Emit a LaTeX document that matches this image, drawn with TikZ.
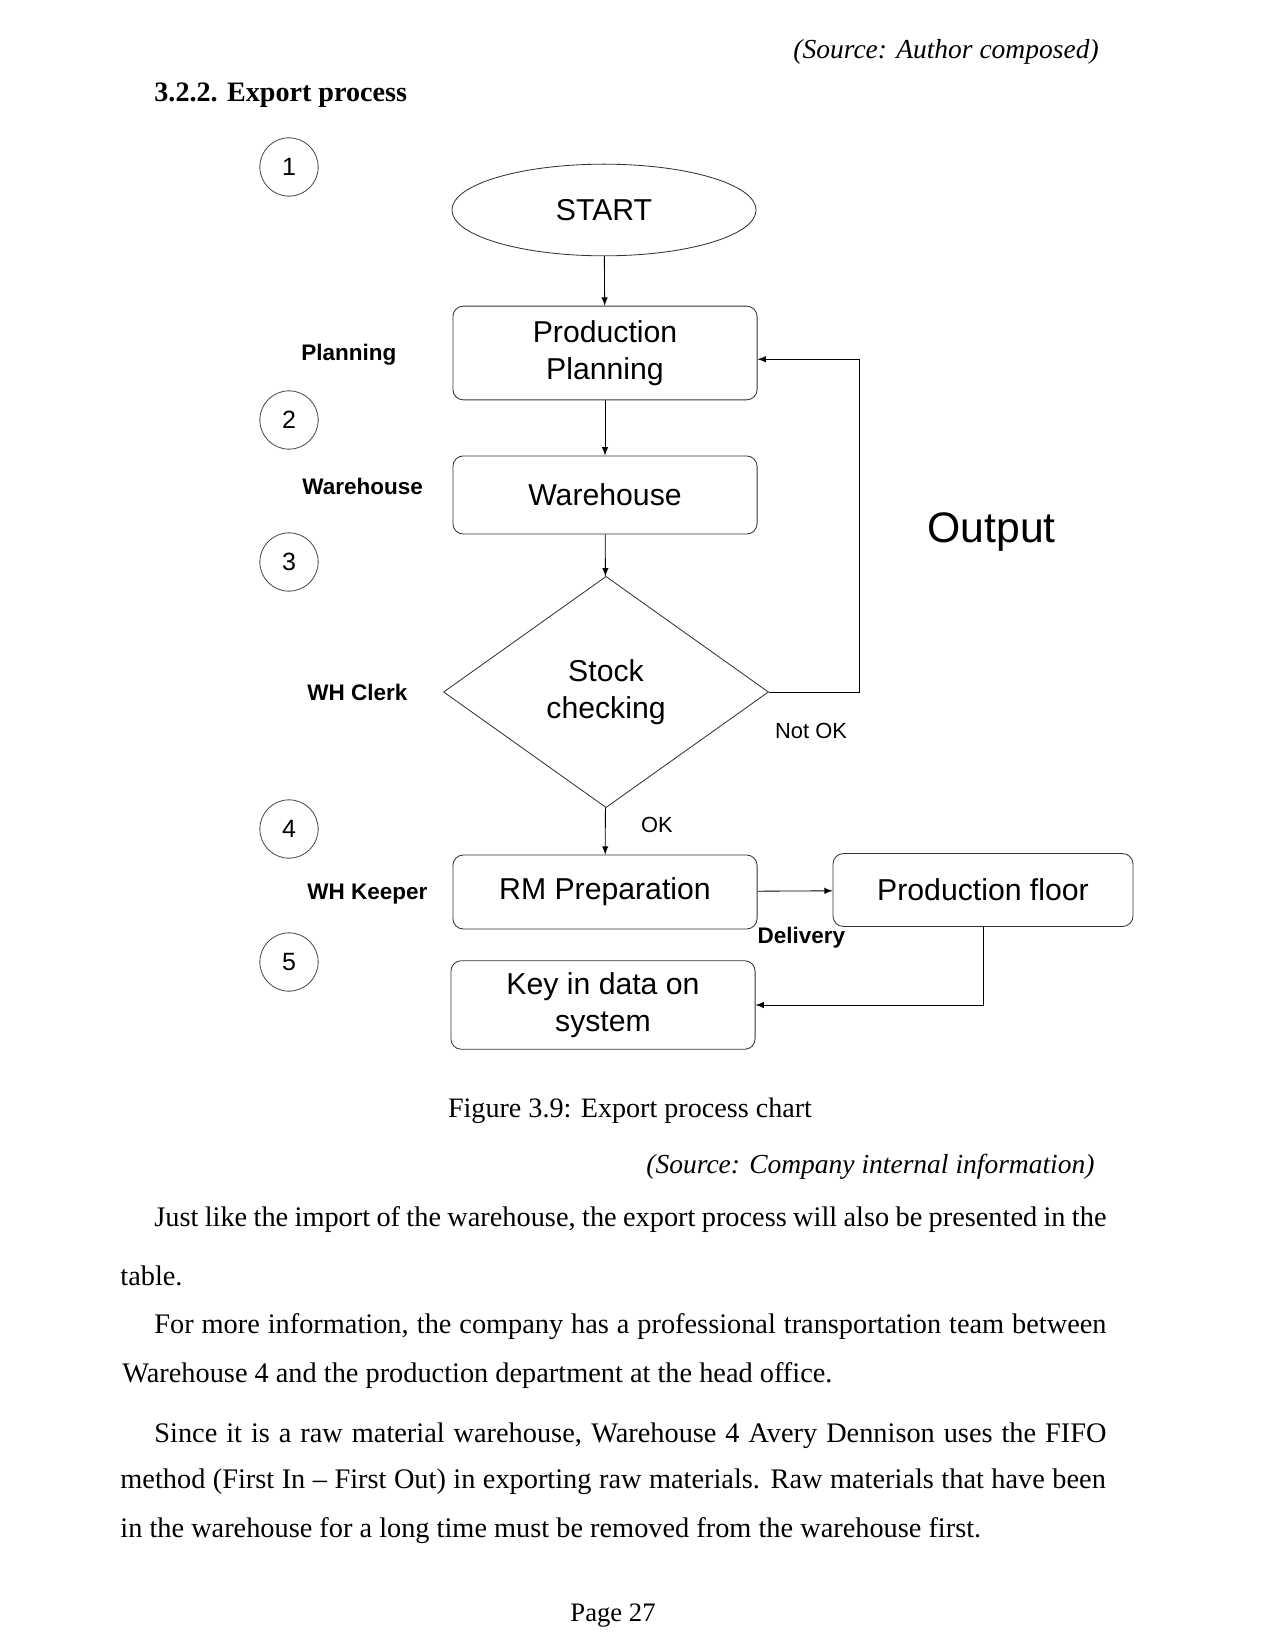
\documentclass[tikz,border=0pt]{standalone}
\usepackage{fontspec}
\setmainfont{Liberation Serif}
\newfontfamily\diagfont{Liberation Sans}
\usetikzlibrary{shapes.geometric}

\begin{document}
\begin{tikzpicture}[x=0.48pt,y=-0.48pt,>=latex,thin,
    stepbox/.style={draw=black!80,rounded corners=5pt,minimum width=146pt,align=center,
        font=\diagfont\fontsize{14.5}{17.5}\selectfont},
    role/.style={anchor=west,inner sep=0pt,font=\diagfont\bfseries\fontsize{10.8}{13}\selectfont},
    note/.style={inner sep=0pt,font=\diagfont\fontsize{10.5}{13}\selectfont},
    bodyline/.style={anchor=west,inner sep=0pt,font=\fontsize{13.6}{16}\selectfont}]
            \useasboundingbox (0,0) rectangle (1275,1650);
            \fill[white] (0,0) rectangle (1275,1650);
            % page text above the chart
            \node[bodyline,font=\fontsize{13.2}{15}\selectfont\itshape] (srca) at (793,52) {(Source: Author composed)};
            \node[bodyline,font=\fontsize{13.5}{15}\selectfont\bfseries] (head) at (154,95) {3.2.2. Export process};
            \begin{scope}[every node/.style={circle,draw=black!70,minimum size=28pt,inner sep=0pt,
                    font=\diagfont\fontsize{12}{14}\selectfont}]
                \node (c1) at (289,167) {1};
                \node (c2) at (289,420) {2};
                \node (c3) at (289,562) {3};
                \node (c4) at (289,829) {4};
                \node (c5) at (289,962) {5};
            \end{scope}
            \node[role] (lplan) at (301,355) {Planning};
            \node[role] (lwh) at (302,486) {Warehouse};
            \node[role] (lclerk) at (307,692) {WH Clerk};
            \node[role] (lkeep) at (307,894) {WH Keeper};
            \node[ellipse,draw=black!80,minimum width=146pt,minimum height=44pt,
                font=\diagfont\fontsize{14.5}{17.5}\selectfont] (start) at (604,210) {START};
            \node[stepbox,minimum height=45pt] (plan) at (605,353) {Production\\Planning};
            \node[stepbox,minimum height=37.5pt] (wh) at (605,495) {Warehouse};
            \node[diamond,draw=black!80,minimum width=156pt,minimum height=111pt,inner sep=0pt,
                align=center,font=\diagfont\fontsize{14.5}{17.5}\selectfont] (chk) at (606,692) {Stock\\checking};
            \node[stepbox,minimum height=35.5pt] (rm) at (605,892) {RM Preparation};
            \node[stepbox,minimum width=144pt,minimum height=35pt] (pf) at (983,890) {Production floor};
            \node[stepbox,minimum height=42.5pt] (key) at (603,1005) {Key in data on\\system};
            \node[anchor=west,inner sep=0pt,font=\diagfont\fontsize{20.5}{24}\selectfont] (out) at (927,532) {Output};
            \node[note] (lnotok) at (811,731) {Not OK};
            \coordinate (nokturn) at (859,692);
            \draw (start) edge [->] (plan);
            \draw (plan) edge [->] (wh);
            \draw (wh) edge [->] (chk);
            \draw[->] (chk) -- node[note,anchor=west,xshift=17pt,yshift=3pt] (lok) {OK} (rm);
            \draw[->] (chk.east) -- (nokturn) |- ([yshift=-3pt]plan.east);
            \draw[->] (rm) -- node[role,anchor=north,xshift=3pt,yshift=-17pt] (ldel) {Delivery} (pf);
            \draw[->] (pf.south) |- (key.east);
            % caption and text below the chart
            \node[font=\fontsize{13.5}{15}\selectfont] (cap) at (630,1111) {Figure 3.9: Export process chart};
            \node[bodyline,font=\fontsize{13.2}{15}\selectfont\itshape] (srcb) at (646,1167) {(Source: Company internal information)};
            \node[bodyline] (p1a) at (154,1220) {\makebox[457pt][s]{Just like the import of the warehouse, the export process will also be presented in the}};
            \node[bodyline] (p1b) at (120,1276) {table.};
            \node[bodyline] (p2a) at (154,1327) {\makebox[457pt][s]{For more information, the company has a professional transportation team between}};
            \node[bodyline] (p2b) at (122,1376) {Warehouse 4 and the production department at the head office.};
            \node[bodyline] (p3a) at (154,1436) {\makebox[457pt][s]{Since it is a raw material warehouse, Warehouse 4 Avery Dennison uses the FIFO}};
            \node[bodyline] (p3b) at (120,1482) {\makebox[473pt][s]{method (First In -- First Out) in exporting raw materials. Raw materials that have been}};
            \node[bodyline] (p3c) at (120,1531) {in the warehouse for a long time must be removed from the warehouse first.};
            \node[font=\fontsize{12.8}{15}\selectfont] (page) at (613,1616) {Page 27};
        \end{tikzpicture}
\end{document}
